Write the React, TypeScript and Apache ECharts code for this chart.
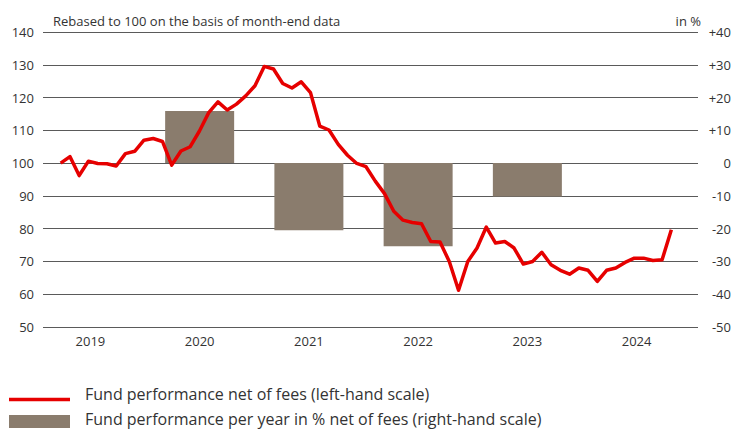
import React, { useEffect, useRef } from "react";
import * as echarts from "echarts";

// Month-end dates of the fund index (rebased to 100)
const monthEnds = [
  "2019-03", "2019-04", "2019-05", "2019-06", "2019-07", "2019-08", "2019-09", "2019-10", "2019-11", "2019-12",
  "2020-01", "2020-02", "2020-03", "2020-04", "2020-05", "2020-06", "2020-07", "2020-08", "2020-09", "2020-10", "2020-11", "2020-12",
  "2021-01", "2021-02", "2021-03", "2021-04", "2021-05", "2021-06", "2021-07", "2021-08", "2021-09", "2021-10", "2021-11", "2021-12",
  "2022-01", "2022-02", "2022-03", "2022-04", "2022-05", "2022-06", "2022-07", "2022-08", "2022-09", "2022-10", "2022-11", "2022-12",
  "2023-01", "2023-02", "2023-03", "2023-04", "2023-05", "2023-06", "2023-07", "2023-08", "2023-09", "2023-10", "2023-11", "2023-12",
  "2024-01", "2024-02", "2024-03", "2024-04", "2024-05", "2024-06", "2024-07", "2024-08", "2024-09",
];

const fundIndex = [
  100, 102, 96.2, 100.6, 99.9, 99.8, 99.1, 102.9, 103.6, 107,
  107.5, 106.6, 99.4, 103.7, 105, 109.8, 115.4, 118.7, 116.2, 118, 120.5, 123.6,
  129.5, 128.7, 124.3, 122.9, 124.8, 121.5, 111.3, 110.1, 105.7, 102.4, 99.9, 98.9,
  94.5, 90.7, 85.3, 82.6, 81.9, 81.5, 76.1, 75.9, 70, 61.2, 70, 74.1,
  80.5, 75.6, 76.1, 74.1, 69.2, 70, 72.8, 69, 67.3, 66.1, 68, 67.3,
  63.9, 67.3, 68, 69.7, 71, 71, 70.3, 70.5, 79.7,
];

const years = ["2019", "2020", "2021", "2022", "2023", "2024"];
const yearlyReturn: (number | null)[] = [null, 15.9, -20.5, -25.4, -10.2, null];

const headerLeft = "Rebased to 100 on the basis of month-end data";
const headerRight = "in %";
const legendLine = "Fund performance net of fees (left-hand scale)";
const legendBar = "Fund performance per year in % net of fees (right-hand scale)";

const RED = "#e60000";
const BROWN = "#8a7c6d";
const FONT = "'Open Sans', sans-serif";
const TEXT = "#333333";

export default function App() {
  const ref = useRef<HTMLDivElement>(null);

  useEffect(() => {
    if (!ref.current) return;
    const chart = echarts.init(ref.current, undefined, { renderer: "svg" });

    const lineData = monthEnds.map((s, i) => [
      (parseInt(s.slice(0, 4), 10) - 2019) * 12 + parseInt(s.slice(5), 10),
      fundIndex[i],
    ]);
    const barData = yearlyReturn
      .map((v, i) => (v == null ? null : [i, v]))
      .filter((d) => d !== null);

    chart.setOption({
      animation: false,
      textStyle: { fontFamily: FONT },
      grid: { left: 43, right: 35, top: 32, bottom: 103, containLabel: false },
      xAxis: [
        {
          type: "value",
          min: 1.09,
          max: 71.88,
          show: false,
        },
        {
          type: "value",
          min: -0.434,
          max: 5.562,
          position: "bottom",
          axisLine: { show: false },
          axisTick: { show: false },
          splitLine: { show: false },
          axisLabel: {
            customValues: [0, 1, 2, 3, 4, 5],
            formatter: (v: number) => years[Math.round(v)] ?? "",
            margin: 7,
            fontSize: 13,
            color: TEXT,
            fontFamily: FONT,
          },
        },
      ],
      yAxis: [
        {
          type: "value",
          min: 50,
          max: 140,
          interval: 10,
          position: "left",
          axisLine: { show: false },
          axisTick: { show: false },
          splitLine: { show: true, lineStyle: { color: "#5a5a5a", width: 1 } },
          axisLabel: { margin: 9, fontSize: 13, color: TEXT, fontFamily: FONT },
        },
        {
          type: "value",
          min: -50,
          max: 40,
          interval: 10,
          position: "right",
          axisLine: { show: false },
          axisTick: { show: false },
          splitLine: { show: false },
          axisLabel: {
            align: "right",
            margin: 33,
            fontSize: 13,
            color: TEXT,
            fontFamily: FONT,
            formatter: (v: number) => (v > 0 ? "+" + v : String(v)),
          },
        },
      ],
      series: [
        {
          type: "bar",
          xAxisIndex: 1,
          yAxisIndex: 1,
          data: barData,
          barWidth: 69,
          itemStyle: { color: BROWN },
          z: 1,
        },
        {
          type: "line",
          xAxisIndex: 0,
          yAxisIndex: 0,
          data: lineData,
          showSymbol: false,
          symbol: "none",
          lineStyle: { color: RED, width: 3.5, join: "round" },
          z: 3,
        },
      ],
      graphic: [
        {
          type: "text",
          x: 53,
          y: 21,
          style: { text: headerLeft, fontSize: 13, fill: TEXT, fontFamily: FONT, verticalAlign: "middle" },
        },
        {
          type: "text",
          x: 701,
          y: 21,
          style: { text: headerRight, fontSize: 13, fill: TEXT, fontFamily: FONT, verticalAlign: "middle", align: "right" },
        },
        {
          type: "line",
          shape: { x1: 9, y1: 399.5, x2: 70, y2: 399.5 },
          style: { stroke: RED, lineWidth: 3.5 },
        },
        {
          type: "text",
          x: 85,
          y: 394,
          style: { text: legendLine, fontSize: 16, fill: TEXT, fontFamily: FONT, verticalAlign: "middle" },
        },
        {
          type: "rect",
          shape: { x: 9, y: 415, width: 61, height: 13 },
          style: { fill: BROWN },
        },
        {
          type: "text",
          x: 85,
          y: 419,
          style: { text: legendBar, fontSize: 16, fill: TEXT, fontFamily: FONT, verticalAlign: "middle" },
        },
      ],
    });

    return () => chart.dispose();
  }, []);

  return (
    <div
      ref={ref}
      style={{ position: "fixed", left: 0, top: 0, width: 734, height: 430, background: "#fff" }}
    />
  );
}
